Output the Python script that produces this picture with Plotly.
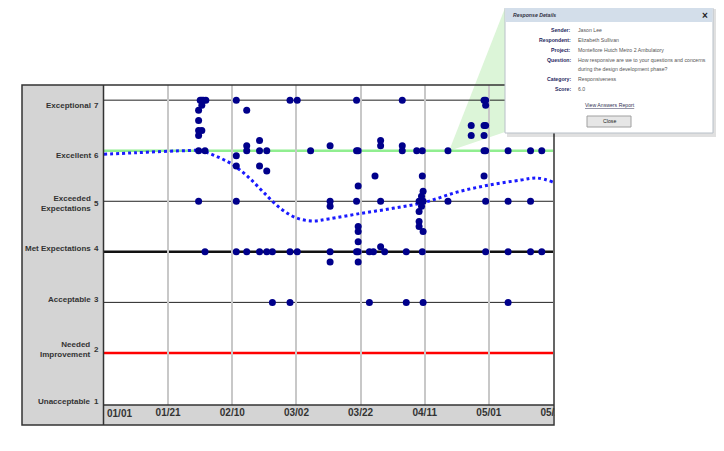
import plotly.graph_objects as go

# ---- data ----
level_values = [7, 6, 5, 4, 3, 2, 1]
level_names = ["Exceptional", "Excellent", "Exceeded<br>Expectations", "Met Expectations",
               "Acceptable", "Needed<br>Improvement", "Unacceptable"]

tick_dates = ["2011-01-21", "2011-02-10", "2011-03-02", "2011-03-22", "2011-04-11", "2011-05-01", "2011-05-21"]
tick_text = ["01/21", "02/10", "03/02", "03/22", "04/11", "05/01", "05/21"]

resp_dates = [
    "2011-01-30 12:00", "2011-01-31 00:00", "2011-01-31 12:00", "2011-02-01 00:00",
    "2011-02-01 12:00", "2011-02-01 18:00", "2011-02-11 06:00", "2011-02-14 12:00",
    "2011-02-18 12:00", "2011-02-20 18:00", "2011-02-22 12:00", "2011-02-28 00:00",
    "2011-03-02 06:00", "2011-03-06 10:00", "2011-03-12 12:00", "2011-03-20 18:00",
    "2011-03-21 06:00", "2011-03-24 18:00", "2011-03-26 00:00", "2011-03-26 12:00",
    "2011-03-28 06:00", "2011-03-29 12:00", "2011-04-04 00:00", "2011-04-05 06:00",
    "2011-04-08 12:00", "2011-04-09 06:00", "2011-04-10 00:00", "2011-04-10 06:00",
    "2011-04-10 12:00", "2011-04-18 06:00", "2011-04-25 12:00", "2011-04-29 12:00",
    "2011-04-30 00:00", "2011-05-07 00:00", "2011-05-14 00:00", "2011-05-17 12:00",
]
resp_scores = [
    [6.8, 6.6, 6.4, 6.3, 6.0, 5.0], [7.0], [7.0, 6.9, 6.4], [7.0],
    [6.0, 4.0], [7.0], [7.0, 5.9, 5.7, 5.0, 4.0], [6.8, 6.1, 6.0, 4.0],
    [6.2, 6.0, 5.7, 4.0], [6.0, 5.6, 4.0], [4.0, 3.0], [7.0, 4.0, 3.0],
    [7.0, 4.0], [6.0], [6.1, 5.0, 4.9, 4.0, 3.8], [7.0, 6.0, 5.0, 4.0],
    [6.0, 5.3, 4.5, 4.4, 4.2, 4.0, 3.8], [4.0, 3.0], [4.0], [5.5],
    [6.2, 6.1, 5.0, 4.1], [4.0], [7.0, 6.1, 6.0], [4.0, 3.0],
    [6.0], [5.0, 4.8, 4.6, 4.5], [5.1, 4.9], [6.0, 5.5, 4.0],
    [5.2, 5.0, 4.4, 3.0], [6.0, 5.0], [6.5, 6.3], [7.0, 6.5, 6.3, 6.0, 5.5],
    [7.0, 6.9, 6.5, 6.0, 5.0, 4.0], [6.0, 5.0, 4.0, 3.0], [6.0, 5.0, 4.0], [6.0, 4.0],
]

trend_dates = ["2011-01-01", "2011-01-11", "2011-01-21", "2011-01-26", "2011-01-31", "2011-02-05",
               "2011-02-10", "2011-02-15", "2011-02-20", "2011-02-25", "2011-03-02", "2011-03-07",
               "2011-03-12", "2011-03-22", "2011-04-01", "2011-04-11", "2011-04-21", "2011-05-01",
               "2011-05-11", "2011-05-16", "2011-05-21"]
trend_scores = [5.93, 5.96, 5.99, 6.0, 6.0, 5.89, 5.73, 5.48, 5.16, 4.86, 4.67, 4.61,
                4.65, 4.76, 4.86, 4.98, 5.18, 5.32, 5.42, 5.46, 5.38]

popup_labels = ["Sender:", "Respondent:", "Project:", "Question:", "", "Category:", "Score:"]
popup_values = ["Jason Lee", "Elizabeth Sullivan", "Montefiore Hutch Metro 2 Ambulatory",
                "How responsive are we to your questions and concerns",
                "during the design development phase?", "Responsiveness", "6.0"]

# ---- layout helpers (reference pixel -> paper) ----
# the page adds an 8px body margin, so the figure is 8px smaller and offset
OFF = 8
W, H = 724 - OFF, 451 - OFF
L, R, T, B = 104, 553, 85, 405


def px(x):
    return (x - L) / (R - L)


def py(y):
    return (B - y) / (B - T)


xs, ys = [], []
for d, sc in zip(resp_dates, resp_scores):
    for s in sc:
        xs.append(d)
        ys.append(s)

fig = go.Figure()
fig.add_trace(go.Scatter(
    x=trend_dates, y=trend_scores, mode='lines',
    line=dict(color='#1a1aff', width=3, dash='dot', shape='spline', smoothing=1.0),
    hoverinfo='skip'
))
fig.add_trace(go.Scatter(
    x=xs, y=ys, mode='markers',
    marker=dict(color='#00008b', size=7),
    hoverinfo='skip'
))

shapes = []
# gray label panel and date band
shapes.append(dict(type='rect', xref='paper', yref='paper', x0=px(22), x1=0, y0=py(425), y1=1,
                   fillcolor='#d4d4d4', line_width=0, layer='below'))
shapes.append(dict(type='rect', xref='paper', yref='paper', x0=0, x1=1, y0=py(425), y1=0,
                   fillcolor='#d4d4d4', line_width=0, layer='below'))
# green callout wedge
shapes.append(dict(type='path', xref='paper', yref='paper',
                   path=f"M {px(449)},{py(151)} L {px(505)},{py(8)} L {px(505)},{py(132)} Z",
                   fillcolor='#dcf5d8', line_width=0, layer='below'))

# score level lines
level_colors = ['#222222', '#90ee90', '#222222', '#111111', '#222222', '#ff0000']
level_widths = [1, 2.5, 1, 2.5, 1, 2.5]
for v, c, w in zip(level_values[:6], level_colors, level_widths):
    shapes.append(dict(type='line', xref='paper', yref='y', x0=0, x1=1, y0=v, y1=v,
                       line=dict(color=c, width=w), layer='below'))

# hide overflow of last date label
shapes.append(dict(type='rect', xref='paper', yref='paper', x0=px(555), x1=px(600), y0=py(432), y1=py(402),
                   fillcolor='white', line_width=0, layer='above'))
# borders
shapes.append(dict(type='rect', xref='paper', yref='paper', x0=px(22), x1=px(554), y0=py(425), y1=1,
                   line=dict(color='#333333', width=1.5), layer='above'))
shapes.append(dict(type='line', xref='paper', yref='paper', x0=px(103.5), x1=px(103.5), y0=py(425), y1=1,
                   line=dict(color='#333333', width=1.5), layer='above'))
shapes.append(dict(type='line', xref='paper', yref='paper', x0=px(103.5), x1=px(554), y0=py(405), y1=py(405),
                   line=dict(color='#333333', width=1.5), layer='above'))

# popup window
shapes.append(dict(type='rect', xref='paper', yref='paper', x0=px(507), x1=px(717), y0=py(137), y1=py(9),
                   fillcolor='rgba(0,0,0,0.12)', line_width=0, layer='above'))
shapes.append(dict(type='rect', xref='paper', yref='paper', x0=px(505), x1=px(713), y0=py(133), y1=py(7),
                   fillcolor='white', line=dict(color='#b8c0c8', width=1), layer='above'))
shapes.append(dict(type='rect', xref='paper', yref='paper', x0=px(505.5), x1=px(712.5), y0=py(22), y1=py(7.5),
                   fillcolor='#d3deea', line_width=0, layer='above'))
shapes.append(dict(type='rect', xref='paper', yref='paper', x0=px(587), x1=px(631), y0=py(127), y1=py(116),
                   fillcolor='#e6e6e6', line=dict(color='#a0a0a0', width=1), layer='above'))

annotations = []
label_font = dict(family='Liberation Sans', size=8, color='#333333', weight='bold')
label_dy = [-5, -5, -2, 3, 3, 3, 2]
for v, name, dy in zip(level_values, level_names, label_dy):
    annotations.append(dict(xref='paper', yref='y', x=px(93), y=v, text=name, showarrow=False,
                            xanchor='right', yanchor='middle', align='right', yshift=dy, font=label_font))
    annotations.append(dict(xref='paper', yref='y', x=px(100.5), y=v, text=str(v), showarrow=False,
                            xanchor='right', yanchor='middle', yshift=dy, font=label_font))

annotations.append(dict(xref='paper', yref='paper', x=px(105), y=py(413), text='01/01', showarrow=False,
                        xanchor='left', yanchor='middle',
                        font=dict(family='Liberation Sans', size=10, color='#333333', weight='bold')))

# popup text
pop_font = 'Liberation Sans'
annotations.append(dict(xref='paper', yref='paper', x=px(511), y=py(15), text='<i>Response Details</i>',
                        showarrow=False, xanchor='left', yanchor='middle',
                        font=dict(family=pop_font, size=5.2, color='#333344', weight='bold')))
annotations.append(dict(xref='paper', yref='paper', x=px(705), y=py(15), text='×', showarrow=False,
                        xanchor='center', yanchor='middle',
                        font=dict(family=pop_font, size=10, color='#222222', weight='bold')))
row_y = [29.5, 39.5, 50, 60, 68.5, 78.5, 88.5]
for lab, val, yy in zip(popup_labels, popup_values, row_y):
    if lab:
        annotations.append(dict(xref='paper', yref='paper', x=px(572.5), y=py(yy), text=lab, showarrow=False,
                                xanchor='right', yanchor='middle',
                                font=dict(family=pop_font, size=5.2, color='#262660', weight='bold')))
    annotations.append(dict(xref='paper', yref='paper', x=px(576), y=py(yy), text=val, showarrow=False,
                            xanchor='left', yanchor='middle',
                            font=dict(family=pop_font, size=5.2, color='#555555')))
annotations.append(dict(xref='paper', yref='paper', x=px(609.5), y=py(105), text='<u>View Answers Report</u>',
                        showarrow=False, xanchor='center', yanchor='middle',
                        font=dict(family=pop_font, size=5.2, color='#333355')))
annotations.append(dict(xref='paper', yref='paper', x=px(609), y=py(121.5), text='Close',
                        showarrow=False, xanchor='center', yanchor='middle',
                        font=dict(family=pop_font, size=5.2, color='#222222')))

fig.update_layout(
    width=W, height=H,
    margin=dict(l=L - OFF, r=W - (R - OFF), t=T - OFF, b=H - (B - OFF)),
    paper_bgcolor='white', plot_bgcolor='white',
    showlegend=False,
    shapes=shapes,
    annotations=annotations,
    hovermode=False,
)
fig.update_xaxes(
    type='date', range=['2011-01-01', '2011-05-21'],
    tickvals=tick_dates, ticktext=tick_text, ticks='',
    tickfont=dict(family='Liberation Sans', size=10, color='#333333', weight='bold'),
    showgrid=True, gridcolor='#c8c8c8', gridwidth=1.5,
    showline=False, zeroline=False, fixedrange=True,
)
fig.update_yaxes(
    range=[0.97, 7.3], showticklabels=False, showgrid=False, zeroline=False,
    showline=False, fixedrange=True,
)

fig.write_html("out.html")
